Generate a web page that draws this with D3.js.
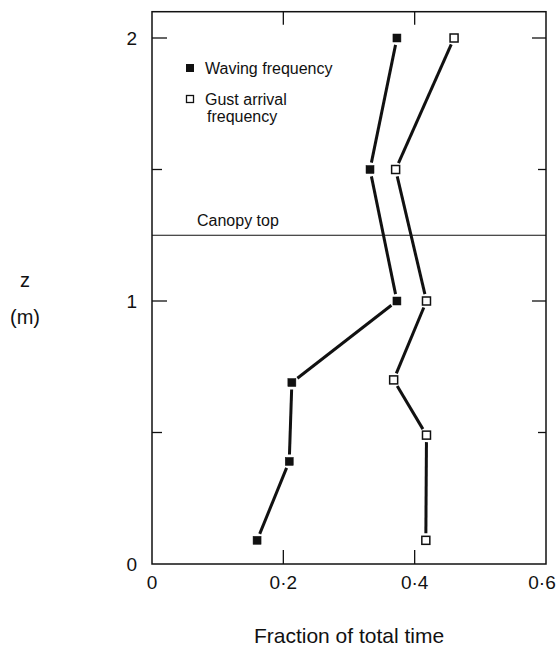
<!DOCTYPE html>
<html>
<head>
<meta charset="utf-8">
<script src="https://cdn.jsdelivr.net/npm/d3@7"></script>
<style>
  body { margin: 0; background: #fff; }
  text { font-family: "Liberation Sans", Arial, sans-serif; fill: #111; }
</style>
</head>
<body>
<svg id="chart"></svg>
<script>
// heights (m) and fraction of total time
var wavingZ = [2.0, 1.5, 1.0, 0.69, 0.39, 0.09];
var wavingFrac = [0.373, 0.332, 0.373, 0.213, 0.209, 0.160];
var gustZ = [2.0, 1.5, 1.0, 0.7, 0.49, 0.09];
var gustFrac = [0.46, 0.371, 0.418, 0.368, 0.418, 0.417];
var canopyTop = 1.25;
var xTicks = [0, 0.2, 0.4, 0.6];
var xTickLabels = ["0", "0·2", "0·4", "0·6"];
var yTicks = [0, 1, 2];
var yMinorTicks = [0.5, 1.5];

var width = 559, height = 652;
var margin = {left: 152, right: 13, bottom: 88};
var svg = d3.select("#chart").attr("width", width).attr("height", height);

var x = d3.scaleLinear().domain([0, 0.6]).range([margin.left, width - margin.right]);
// z=2 sits at about y=38, frame top at z=2.1
var y = d3.scaleLinear().domain([0, 2.1])
  .range([height - margin.bottom, height - margin.bottom - 2.1 * 263]);

var x0 = x.range()[0], x1 = x.range()[1], y0 = y.range()[0], y1 = y.range()[1];

// frame
svg.append("rect")
  .attr("x", x0).attr("y", y1)
  .attr("width", x1 - x0).attr("height", y0 - y1)
  .attr("fill", "none").attr("stroke", "#111").attr("stroke-width", 1.5);

// inward ticks
var g = svg.append("g").attr("stroke", "#111").attr("stroke-width", 1.3);
[0.2, 0.4].forEach(function(t) {
  g.append("line").attr("x1", x(t)).attr("x2", x(t)).attr("y1", y0).attr("y2", y0 - 14);
  g.append("line").attr("x1", x(t)).attr("x2", x(t)).attr("y1", y1).attr("y2", y1 + 13);
});
[1, 2].forEach(function(t) {
  g.append("line").attr("x1", x0).attr("x2", x0 + 15).attr("y1", y(t)).attr("y2", y(t));
  g.append("line").attr("x1", x1).attr("x2", x1 - 14).attr("y1", y(t)).attr("y2", y(t));
});
yMinorTicks.forEach(function(t) {
  g.append("line").attr("x1", x0).attr("x2", x0 + 10).attr("y1", y(t)).attr("y2", y(t));
  g.append("line").attr("x1", x1).attr("x2", x1 - 8).attr("y1", y(t)).attr("y2", y(t));
});

// tick labels (last one pulled in so it stays on the page)
svg.selectAll(".xlab").data(xTicks).enter().append("text")
  .attr("x", function(d) { return Math.min(x(d), width - 17); })
  .attr("y", y0 + 25)
  .attr("text-anchor", "middle")
  .style("font-size", "19px")
  .text(function(d, i) { return xTickLabels[i]; });

svg.selectAll(".ylab").data(yTicks).enter().append("text")
  .attr("x", x0 - 15)
  .attr("y", function(d) { return y(d) + 7; })
  .attr("text-anchor", "end")
  .style("font-size", "19px")
  .text(function(d) { return d; });

// axis titles
svg.append("text")
  .attr("x", (x0 + x1) / 2).attr("y", 643)
  .attr("text-anchor", "middle")
  .style("font-size", "21px")
  .text("Fraction of total time");

svg.append("text").attr("x", 25).attr("y", 287)
  .attr("text-anchor", "middle").style("font-size", "20px").text("z");
svg.append("text").attr("x", 25).attr("y", 324)
  .attr("text-anchor", "middle").style("font-size", "20px").text("(m)");

// canopy top
svg.append("line")
  .attr("x1", x0).attr("x2", x1)
  .attr("y1", y(canopyTop)).attr("y2", y(canopyTop))
  .attr("stroke", "#111").attr("stroke-width", 1);
svg.append("text")
  .attr("x", 197).attr("y", y(canopyTop) - 9)
  .style("font-size", "16px")
  .text("Canopy top");

// profiles: segments stop short of the markers
function drawProfile(frac, zs, filled) {
  var pts = frac.map(function(f, i) { return [x(f), y(zs[i])]; });
  var gap = 7;
  for (var i = 0; i < pts.length - 1; i++) {
    var a = pts[i], b = pts[i + 1];
    var dx = b[0] - a[0], dy = b[1] - a[1], len = Math.sqrt(dx * dx + dy * dy);
    var ux = dx / len, uy = dy / len;
    svg.append("line")
      .attr("x1", a[0] + ux * gap).attr("y1", a[1] + uy * gap)
      .attr("x2", b[0] - ux * gap).attr("y2", b[1] - uy * gap)
      .attr("stroke", "#111").attr("stroke-width", 3);
  }
  svg.selectAll(null).data(pts).enter().append("rect")
    .attr("x", function(d) { return d[0] - 4; })
    .attr("y", function(d) { return d[1] - 4; })
    .attr("width", 8).attr("height", 8)
    .attr("fill", filled ? "#111" : "#fff")
    .attr("stroke", "#111")
    .attr("stroke-width", filled ? 0.5 : 1.5);
}
drawProfile(wavingFrac, wavingZ, true);
drawProfile(gustFrac, gustZ, false);

// legend
svg.append("rect").attr("x", 186).attr("y", 64).attr("width", 8).attr("height", 8)
  .attr("fill", "#111");
svg.append("text").attr("x", 205).attr("y", 74).style("font-size", "16px")
  .text("Waving frequency");
svg.append("rect").attr("x", 186.5).attr("y", 95.5).attr("width", 7).attr("height", 7)
  .attr("fill", "#fff").attr("stroke", "#111").attr("stroke-width", 1.3);
svg.append("text").attr("x", 205).attr("y", 105).style("font-size", "16px")
  .text("Gust arrival");
svg.append("text").attr("x", 207).attr("y", 122).style("font-size", "16px")
  .text("frequency");
</script>
</body>
</html>
